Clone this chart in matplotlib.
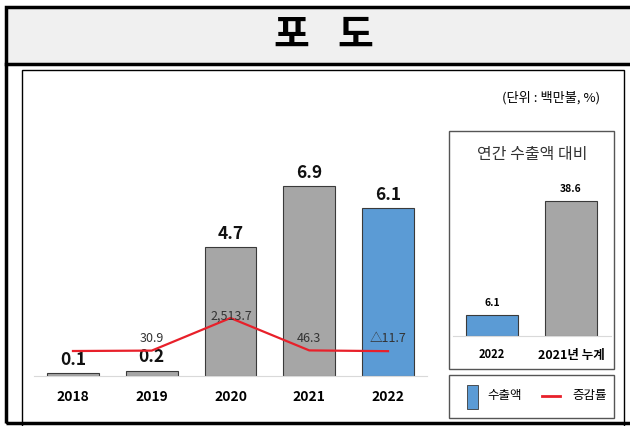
import matplotlib
matplotlib.use("Agg")
from matplotlib import pyplot as plt
from matplotlib.patches import Rectangle
from matplotlib.lines import Line2D

plt.rcParams['font.family'] = ['Noto Sans CJK KR', 'DejaVu Sans']

years = ['2018', '2019', '2020', '2021', '2022']
exports = [0.1, 0.2, 4.7, 6.9, 6.1]
rates = [0.0, 30.9, 2513.7, 46.3, -11.7]
rate_labels = ['', '30.9', '2,513.7', '46.3', '△11.7']

cmp_labels = ['2022', '2021년 누계']
cmp_values = [6.1, 38.6]

GRAY = '#a6a6a6'
BLUE = '#5b9bd5'
EDGE = '#3a3a3a'
RED = '#e8202a'

W, H = 630, 426
fig = plt.figure(figsize=(W / 100, H / 100), dpi=100)


def box(x0, y0, x1, y1):
    # pixel box (top-left origin) -> figure coords
    return [x0 / W, 1 - y1 / H, (x1 - x0) / W, (y1 - y0) / H]


def rect(x0, y0, x1, y1, **kw):
    b = box(x0, y0, x1, y1)
    fig.patches.append(Rectangle((b[0], b[1]), b[2], b[3],
                                 transform=fig.transFigure, **kw))


# frames
rect(7, 8, 640, 63, facecolor='#f0f0f0', edgecolor='none')
rect(6, 7, 640, 423, facecolor='none', edgecolor='black', linewidth=2.5)
fig.lines.append(Line2D([6 / W, 1], [1 - 64 / H, 1 - 64 / H],
                        transform=fig.transFigure, color='black', linewidth=2.5))
rect(22, 70, 624, 440, facecolor='none', edgecolor='black', linewidth=1.0)

fig.text(291 / W, 1 - 35 / H, '포', ha='center', va='center',
         fontsize=28, fontweight='bold')
fig.text(355 / W, 1 - 35 / H, '도', ha='center', va='center',
         fontsize=28, fontweight='bold')
fig.text(600 / W, 1 - 98 / H, '(단위 : 백만불, %)', ha='right', va='center',
         fontsize=9.5)

# main chart
ax = fig.add_axes(box(33.6, 100, 427.4, 376))
x = list(range(len(years)))
colors = [GRAY] * (len(years) - 1) + [BLUE]
ax.bar(x, exports, width=0.66, color=colors, edgecolor=EDGE, linewidth=0.8,
       zorder=2)
for xi, v in zip(x, exports):
    ax.text(xi, v + 0.15, f'{v:.1f}', ha='center', va='bottom',
            fontsize=12.5, fontweight='bold', color='#111111')
ax.set_xlim(-0.5, 4.5)
ax.set_ylim(0, 10.04)
ax.set_xticks(x)
ax.set_xticklabels(years, fontsize=10, fontweight='bold')
ax.tick_params(axis='x', length=0, pad=10)
ax.set_yticks([])
for s in ['top', 'right', 'left']:
    ax.spines[s].set_visible(False)
ax.spines['bottom'].set_color('#d9d9d9')
ax.patch.set_alpha(0)

ax2 = ax.twinx()
ax2.plot(x, rates, color=RED, linewidth=1.6, zorder=3)
ax2.set_ylim(-1904, 19126)
ax2.set_yticks([])
for s in ax2.spines.values():
    s.set_visible(False)
# label offsets above each point, in pixels
lab_dy = [0, 12, 2, 12, 13]
for xi, r, lab, dy in zip(x, rates, rate_labels, lab_dy):
    if lab:
        ax2.annotate(lab, (xi, r), xytext=(1 if xi == 2 else 0, dy),
                     textcoords='offset pixels', ha='center', va='center',
                     fontsize=9, color='#333333')

# comparison inset
rect(449, 131, 614, 369, facecolor='none', edgecolor='#555555', linewidth=1.0)
fig.text(532 / W, 1 - 155 / H, '연간 수출액 대비', ha='center', va='center',
         fontsize=11.5, color='#333333')
ax3 = fig.add_axes(box(452.5, 170, 610.5, 336))
xc = list(range(len(cmp_labels)))
ax3.bar(xc, cmp_values, width=0.66, color=[BLUE, GRAY], edgecolor=EDGE,
        linewidth=0.8)
for xi, v in zip(xc, cmp_values):
    ax3.text(xi, v + 2.0, f'{v:.1f}', ha='center', va='bottom',
             fontsize=7.5, fontweight='bold')
ax3.set_xlim(-0.5, 1.5)
ax3.set_ylim(0, 47.4)
ax3.set_xticks(xc)
ax3.set_xticklabels(cmp_labels, fontweight='bold')
for lbl, fs in zip(ax3.get_xticklabels(), [8, 9]):
    lbl.set_fontsize(fs)
ax3.tick_params(axis='x', length=0, pad=9)
ax3.set_yticks([])
for s in ['top', 'right', 'left']:
    ax3.spines[s].set_visible(False)
ax3.spines['bottom'].set_color('#d9d9d9')
ax3.patch.set_alpha(0)

# legend box
rect(449, 375, 614, 418, facecolor='none', edgecolor='#555555', linewidth=1.0)
rect(467, 385, 478, 409, facecolor=BLUE, edgecolor=EDGE, linewidth=0.6)
fig.text(505 / W, 1 - 396 / H, '수출액', ha='center', va='center', fontsize=9)
fig.lines.append(Line2D([542 / W, 560 / W], [1 - 396 / H, 1 - 396 / H],
                        transform=fig.transFigure, color=RED, linewidth=2))
fig.text(590 / W, 1 - 396 / H, '증감률', ha='center', va='center', fontsize=9)

fig.savefig('out.png', dpi=100)
